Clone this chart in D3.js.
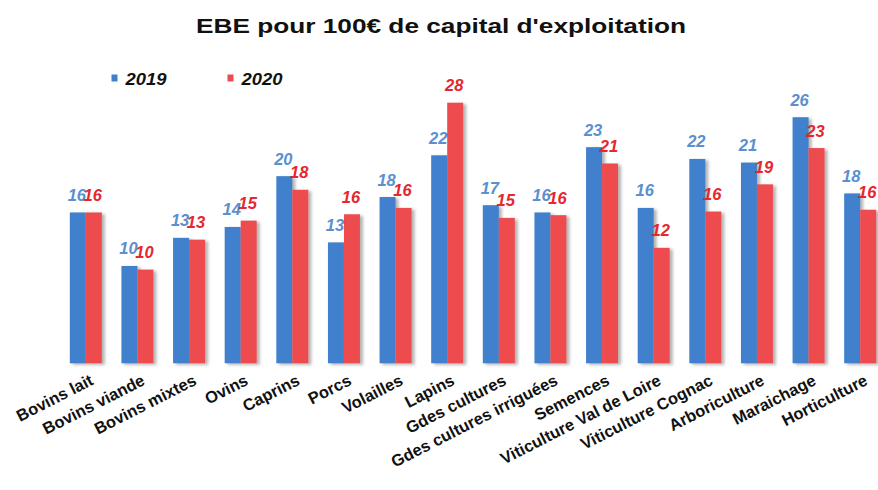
<!DOCTYPE html>
<html>
<head>
<meta charset="utf-8">
<script src="https://cdn.jsdelivr.net/npm/d3@7"></script>
<style>
  html, body { margin: 0; padding: 0; background: #ffffff; }
  svg { display: block; font-family: "Liberation Sans", Arial, sans-serif; }
</style>
</head>
<body>
<svg id="chart" width="878" height="490"></svg>
<script>
const categories = ["Bovins lait", "Bovins viande", "Bovins mixtes", "Ovins", "Caprins", "Porcs",
  "Volailles", "Lapins", "Gdes cultures", "Gdes cultures irriguées", "Semences",
  "Viticulture Val de Loire", "Viticulture Cognac", "Arboriculture", "Maraichage", "Horticulture"];
const series = ["2019", "2020"];
const values2019 = [15.9, 10.0, 13.1, 14.3, 19.9, 12.6, 17.6, 22.2, 16.7, 15.9, 23.1, 16.4, 21.8, 21.4, 26.4, 18.0];
const values2020 = [15.9, 9.6, 12.9, 15.0, 18.4, 15.7, 16.4, 28.0, 15.3, 15.6, 21.3, 12.0, 16.0, 19.0, 23.0, 16.2];
const title = "EBE pour 100€ de capital d'exploitation";

const barColors = { "2019": "#3f80cc", "2020": "#ee4b50" };
const labelColors = { "2019": "#5a8fd0", "2020": "#e5272e" };

const svg = d3.select("#chart");
const data = categories.map((c, i) => ({ cat: c, v: { "2019": values2019[i], "2020": values2020[i] } }));

const defs = svg.append("defs");
const f = defs.append("filter").attr("id", "shadow").attr("x", "-20%").attr("y", "-10%").attr("width", "160%").attr("height", "130%");
f.append("feDropShadow").attr("dx", 3).attr("dy", 1.5).attr("stdDeviation", 1.4)
  .attr("flood-color", "#777").attr("flood-opacity", 0.55);

const x = d3.scaleBand().domain(categories).range([60, 886]).paddingInner(0.38).paddingOuter(0.19);
const xs = d3.scaleBand().domain(series).range([0, x.bandwidth()]);
const y = d3.scaleLinear().domain([-0.73, 28]).range([363.3, 102.7]);

// Title
svg.append("text")
  .attr("x", 441).attr("y", 32.5)
  .attr("text-anchor", "middle")
  .attr("font-size", 20.5).attr("font-weight", "bold").attr("fill", "#111")
  .attr("textLength", 490).attr("lengthAdjust", "spacingAndGlyphs")
  .text(title);

// Legend
const legend = svg.append("g");
const legPos = { "2019": 111.5, "2020": 227.5 };
series.forEach(s => {
  legend.append("rect").attr("x", legPos[s]).attr("y", 74.5).attr("width", 6).attr("height", 7)
    .attr("fill", barColors[s]);
  legend.append("text").attr("x", legPos[s] + 14).attr("y", 85)
    .attr("font-size", 17).attr("font-weight", "bold").attr("font-style", "italic")
    .attr("fill", "#111").attr("textLength", 41).attr("lengthAdjust", "spacingAndGlyphs")
    .text(s);
});

// Bars
const groups = svg.append("g").selectAll("g").data(data).join("g")
  .attr("transform", d => `translate(${x(d.cat)},0)`);

groups.selectAll("rect").data(d => series.map(s => ({ s, v: d.v[s] }))).join("rect")
  .attr("x", d => xs(d.s))
  .attr("y", d => y(d.v))
  .attr("width", xs.bandwidth())
  .attr("height", d => y(-0.73) - y(d.v))
  .attr("fill", d => barColors[d.s])
  .attr("filter", "url(#shadow)");

// Value labels
groups.selectAll("text.val").data(d => series.map(s => ({ s, v: d.v[s] }))).join("text")
  .attr("class", "val")
  .attr("x", d => xs(d.s) + xs.bandwidth() / 2 - 1)
  .attr("y", d => y(d.v) - 11.5)
  .attr("text-anchor", "middle")
  .attr("font-size", 16.5).attr("font-weight", "bold").attr("font-style", "italic")
  .attr("fill", d => labelColors[d.s])
  .text(d => Math.round(d.v));

// Category labels
svg.append("g").selectAll("text").data(categories).join("text")
  .attr("transform", d => `translate(${x(d) + x.bandwidth() / 2 + 3},373) rotate(-27)`)
  .attr("text-anchor", "end")
  .attr("dy", "0.75em")
  .attr("font-size", 16.5).attr("font-weight", "bold").attr("fill", "#111")
  .text(d => d);
</script>
</body>
</html>
